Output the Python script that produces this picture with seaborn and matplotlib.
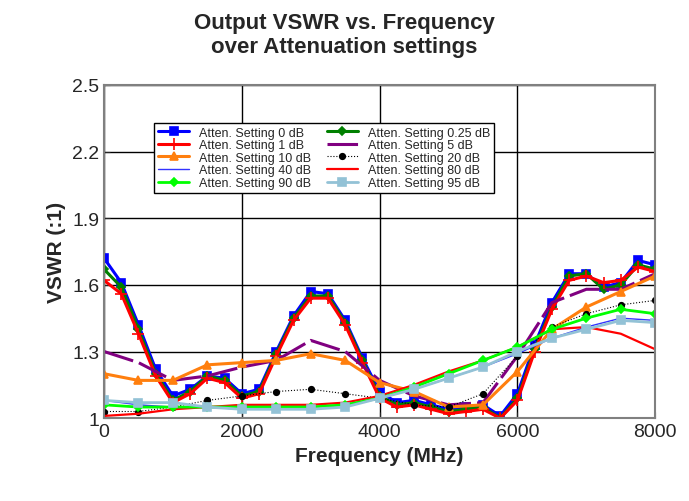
import matplotlib
matplotlib.use("Agg")
import matplotlib.pyplot as plt
import numpy as np
import seaborn as sns

freq_fine = np.arange(0, 8001, 250)
freq = np.arange(0, 8001, 500)

vswr_0 = [1.72, 1.61, 1.42, 1.22, 1.10, 1.13, 1.19, 1.18, 1.11, 1.13, 1.30, 1.46, 1.57, 1.56, 1.44, 1.27, 1.12,
          1.07, 1.08, 1.06, 1.04, 1.05, 1.06, 1.01, 1.11, 1.33, 1.52, 1.65, 1.65, 1.59, 1.61, 1.71, 1.69]
vswr_025 = [1.67, 1.59, 1.40, 1.20, 1.08, 1.12, 1.19, 1.17, 1.10, 1.12, 1.29, 1.45, 1.55, 1.55, 1.43, 1.26, 1.10,
            1.06, 1.07, 1.05, 1.03, 1.04, 1.05, 1.00, 1.09, 1.31, 1.50, 1.64, 1.65, 1.58, 1.60, 1.69, 1.67]
vswr_1 = [1.62, 1.56, 1.38, 1.19, 1.07, 1.11, 1.18, 1.16, 1.09, 1.11, 1.28, 1.44, 1.54, 1.54, 1.42, 1.25, 1.09,
          1.05, 1.06, 1.04, 1.02, 1.03, 1.04, 1.00, 1.08, 1.30, 1.49, 1.62, 1.64, 1.61, 1.62, 1.68, 1.66]
vswr_5 = [1.30, 1.25, 1.17, 1.19, 1.23, 1.26, 1.35, 1.30, 1.17, 1.10, 1.06, 1.07, 1.28, 1.52, 1.58, 1.58, 1.65]
vswr_10 = [1.20, 1.17, 1.17, 1.24, 1.25, 1.26, 1.29, 1.26, 1.16, 1.12, 1.05, 1.06, 1.21, 1.40, 1.50, 1.57, 1.64]
vswr_20 = [1.03, 1.03, 1.05, 1.08, 1.10, 1.12, 1.13, 1.11, 1.09, 1.06, 1.05, 1.11, 1.28, 1.41, 1.47, 1.51, 1.53]
vswr_40 = [1.08, 1.06, 1.05, 1.05, 1.04, 1.04, 1.05, 1.06, 1.09, 1.13, 1.18, 1.23, 1.29, 1.36, 1.41, 1.45, 1.44]
vswr_80 = [1.01, 1.02, 1.04, 1.05, 1.06, 1.06, 1.06, 1.07, 1.10, 1.15, 1.21, 1.26, 1.32, 1.40, 1.41, 1.38, 1.31]
vswr_90 = [1.06, 1.05, 1.05, 1.05, 1.05, 1.05, 1.05, 1.06, 1.09, 1.14, 1.20, 1.26, 1.32, 1.40, 1.45, 1.49, 1.47]
vswr_95 = [1.08, 1.07, 1.07, 1.05, 1.04, 1.04, 1.04, 1.05, 1.09, 1.13, 1.18, 1.23, 1.30, 1.36, 1.40, 1.44, 1.43]

series = [
    ("Atten. Setting 0 dB", freq_fine, vswr_0, dict(color="#0000FF", marker="s", lw=2.2, ms=6)),
    ("Atten. Setting 0.25 dB", freq_fine, vswr_025, dict(color="#008000", marker="D", lw=2.2, ms=4)),
    ("Atten. Setting 1 dB", freq_fine, vswr_1, dict(color="#FF0000", marker="+", lw=2.2, ms=9)),
    ("Atten. Setting 5 dB", freq, vswr_5, dict(color="#800080", marker="", lw=2.2, ls=(0, (10, 2)))),
    ("Atten. Setting 10 dB", freq, vswr_10, dict(color="#FF7F0E", marker="^", lw=2.2, ms=6)),
    ("Atten. Setting 20 dB", freq, vswr_20, dict(color="black", marker="o", lw=0.8, ms=4, ls=":")),
    ("Atten. Setting 40 dB", freq, vswr_40, dict(color="#3333FF", marker="", lw=1)),
    ("Atten. Setting 80 dB", freq, vswr_80, dict(color="#FF0000", marker="", lw=1.6)),
    ("Atten. Setting 90 dB", freq, vswr_90, dict(color="#00FF00", marker="D", lw=2, ms=4)),
    ("Atten. Setting 95 dB", freq, vswr_95, dict(color="#93C2D6", marker="s", lw=2, ms=6)),
]

sns.set_style("white")
plt.rcParams["font.family"] = ["Liberation Sans", "DejaVu Sans"]

fig = plt.figure(figsize=(6.89, 5.02), dpi=100)
ax = fig.add_axes([0.151, 0.165, 0.80, 0.664])
for label, x, y, style in series:
    ls = style.pop("ls", "-")
    sns.lineplot(x=x, y=y, ax=ax, label=label, markeredgecolor=style["color"],
                 markeredgewidth=1.2, linestyle=ls, **style)

ax.set_xlim(0, 8000)
ax.set_ylim(1, 2.5)
ax.set_xticks([0, 2000, 4000, 6000, 8000])
ax.set_yticks([1, 1.3, 1.6, 1.9, 2.2, 2.5])
ax.set_yticklabels(["1", "1.3", "1.6", "1.9", "2.2", "2.5"])
ax.tick_params(labelsize=14, length=4, direction="in", left=True, bottom=True)
ax.grid(True, color="black", lw=1)
for s in ax.spines.values():
    s.set_color("gray")
    s.set_linewidth(1.5)
ax.set_xlabel("Frequency (MHz)", fontsize=15, fontweight="bold")
ax.set_ylabel("VSWR (:1)", fontsize=15, fontweight="bold")
fig.suptitle("Output VSWR vs. Frequency\nover Attenuation settings", fontsize=16,
             fontweight="bold", y=0.975)

# row-wise legend order like the original
handles, labels = ax.get_legend_handles_labels()
order = [0, 2, 4, 6, 8, 1, 3, 5, 7, 9]
ax.legend([handles[i] for i in order], [labels[i] for i in order], ncol=2, fontsize=9,
          loc="upper left", bbox_to_anchor=(0.08, 0.905),
          frameon=True, fancybox=False, edgecolor="black", framealpha=1,
          handlelength=2.5, labelspacing=0.05, borderpad=0.3, columnspacing=1.2)
fig.savefig("out.png", dpi=100)
